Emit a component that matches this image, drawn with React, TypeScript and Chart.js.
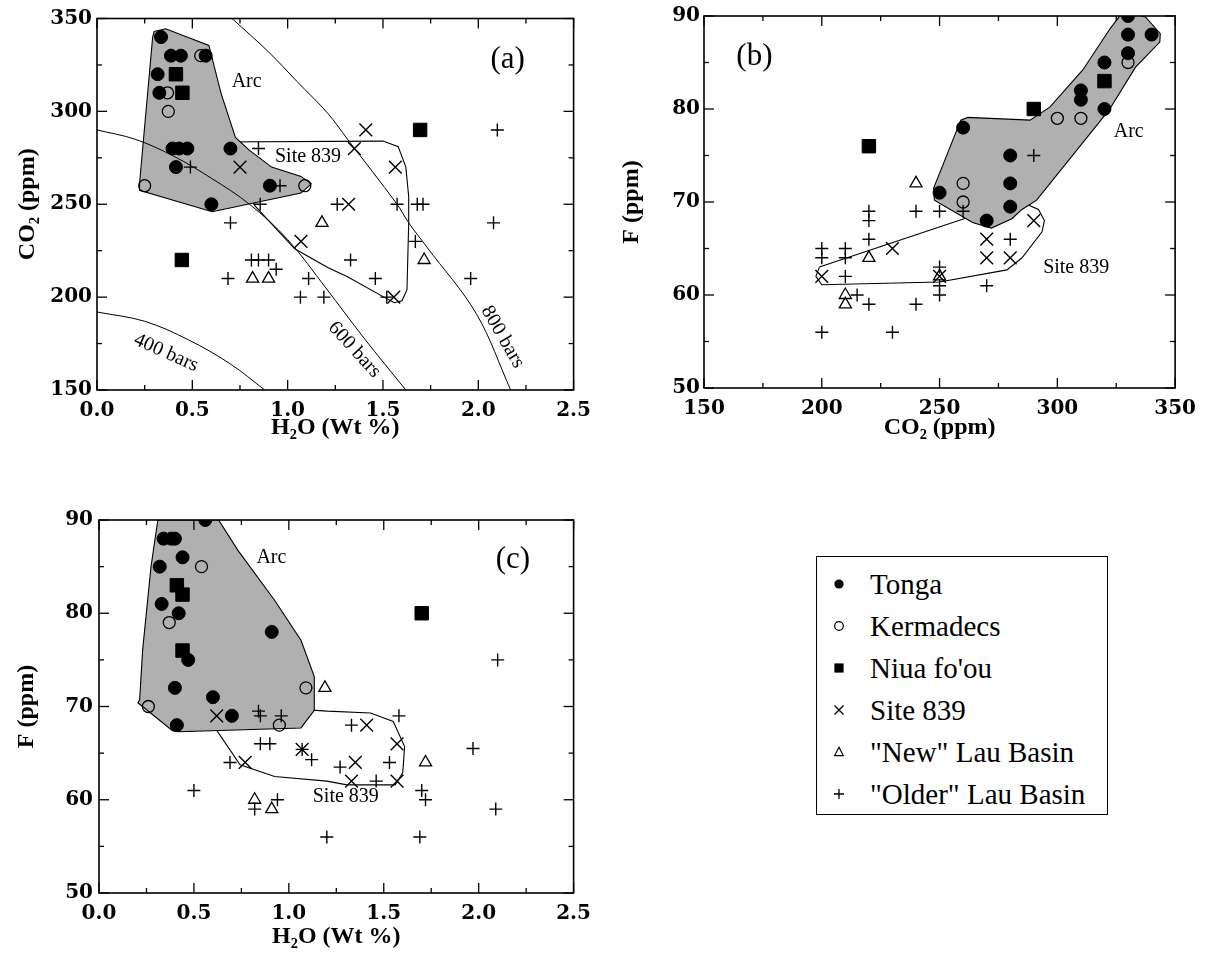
import React, { useEffect, useRef } from 'react';
import { Chart, registerables } from 'chart.js';

Chart.register(...registerables);

type P = [number, number];

// ---------------- Panel (a): H2O (wt %) vs CO2 (ppm) ----------------
const tongaA: P[] = [[0.336, 340], [0.388, 330], [0.44, 330], [0.57, 330], [0.318, 320], [0.327, 310], [0.396, 280], [0.431, 280], [0.474, 280], [0.70, 280], [0.414, 270], [0.907, 260], [0.60, 250]];
const kermA: P[] = [[0.544, 330], [0.37, 310], [0.374, 300], [0.25, 260], [1.09, 260]];
const niuaA: P[] = [[0.414, 320], [0.448, 310], [0.445, 220], [1.695, 290]];
const siteA: P[] = [[0.75, 270], [1.07, 230], [1.32, 250], [1.41, 290], [1.35, 280], [1.565, 270], [1.557, 200]];
const newLauA: P[] = [[1.18, 240], [1.716, 220], [0.816, 210], [0.90, 210]];
const olderLauA: P[] = [[0.49, 270], [0.96, 260], [0.847, 280], [0.856, 250], [0.70, 240], [1.26, 250], [1.574, 250], [1.68, 250], [1.71, 250], [2.08, 240], [1.67, 230], [1.33, 220], [1.46, 210], [1.96, 210], [1.52, 200], [0.81, 220], [0.847, 220], [0.90, 220], [0.94, 215], [0.687, 210], [1.11, 210], [1.067, 200], [1.19, 200], [2.10, 290]];
const arcA: P[] = [[0.292, 340], [0.30, 343], [0.36, 344.5], [0.587, 335.5], [0.65, 310], [0.726, 286], [0.80, 279], [0.916, 270], [1.07, 265], [1.124, 261], [1.07, 256], [0.604, 246], [0.223, 257.5], [0.223, 261], [0.292, 340]];
const site839A: P[] = [[0.60, 283.5], [1.50, 284], [1.58, 281], [1.62, 270], [1.635, 254], [1.635, 240], [1.626, 204], [1.60, 198], [1.56, 197], [1.505, 200], [1.314, 211], [1.21, 216], [1.037, 226], [0.83, 249], [0.63, 281], [0.60, 283.5]];
const bars400: P[] = [[0, 192], [0.25, 187], [0.48, 177], [0.7, 164], [0.88, 150]];
const bars600: P[] = [[0, 290], [0.2, 285], [0.4, 276], [0.6, 264], [0.8, 250], [1.0, 231], [1.2, 205], [1.4, 178], [1.62, 150]];
const bars800: P[] = [[0.708, 350], [0.9, 332], [1.05, 316], [1.21, 299], [1.314, 285], [1.574, 250], [1.635, 240], [1.73, 227], [1.99, 191], [2.17, 150]];
const notesA = [
  { text: 'Arc', x: 0.785, y: 316, rot: 0, kind: 'small' },
  { text: 'Site 839', x: 1.107, y: 275.5, rot: 0, kind: 'small' },
  { text: '(a)', x: 2.154, y: 327.7, rot: 0, kind: 'big' },
  { text: '400 bars', x: 0.362, y: 170, rot: 24, kind: 'small' },
  { text: '600 bars', x: 1.35, y: 171.7, rot: 47.5, kind: 'small' },
  { text: '800 bars', x: 2.128, y: 178.5, rot: 60, kind: 'small' },
];

// ---------------- Panel (b): CO2 (ppm) vs F (ppm) ----------------
const tongaB: P[] = [[330, 90], [330, 88], [340, 88], [330, 86], [320, 85], [310, 82], [310, 81], [320, 80], [260, 78], [280, 75], [280, 72], [250, 71], [280, 69.5], [270, 68]];
const kermB: P[] = [[330, 85], [300, 79], [310, 79], [260, 72], [260, 70]];
const niuaB: P[] = [[220, 76], [320, 83], [290, 80]];
const siteB: P[] = [[290, 68], [230, 65], [200, 62], [250, 62], [270, 66], [270, 64], [280, 64]];
const newLauB: P[] = [[240, 72], [220, 64], [210, 60], [210, 59], [250, 62]];
const olderLauB: P[] = [[220, 69], [220, 68], [240, 69], [250, 69], [260, 69], [290, 75], [220, 66], [200, 65], [200, 64], [210, 65], [210, 64], [210, 62], [215, 60], [220, 59], [240, 59], [250, 63], [250, 61], [250, 60], [270, 61], [200, 56], [230, 56], [280, 66]];
const arcB: P[] = [[322, 88.5], [328, 90.5], [337.4, 89.9], [343.7, 88.1], [343.5, 87.2], [333.2, 84.5], [322, 79.9], [291.2, 70.2], [285, 69.2], [280.7, 68.2], [272, 67.2], [264, 67.8], [247.8, 70.2], [247.5, 71.5], [259, 78.8], [262, 79.1], [288.4, 78.8], [296.8, 80.2], [310.8, 84.2], [322, 88.5]];
const site839B: P[] = [[199, 63], [260.4, 68.2], [278.6, 69.7], [285.6, 69.9], [292, 69.2], [294.5, 68], [293.5, 66.8], [285, 64], [278.6, 62.7], [250, 61.4], [200, 61.1], [197.5, 62], [199, 63]];
const notesB = [
  { text: '(b)', x: 171.4, y: 85.6, rot: 0, kind: 'big' },
  { text: 'Arc', x: 330.3, y: 77.6, rot: 0, kind: 'small' },
  { text: 'Site 839', x: 308, y: 62.9, rot: 0, kind: 'small' },
];

// ---------------- Panel (c): H2O (wt %) vs F (ppm) ----------------
const tongaC: P[] = [[0.56, 90], [0.34, 88], [0.38, 88], [0.40, 88], [0.44, 86], [0.32, 85], [0.33, 81], [0.42, 80], [0.91, 78], [0.47, 75], [0.40, 72], [0.60, 71], [0.70, 69], [0.41, 68]];
const kermC: P[] = [[0.54, 85], [0.37, 79], [1.09, 72], [0.26, 70], [0.95, 68]];
const niuaC: P[] = [[0.41, 83], [0.44, 82], [0.44, 76], [1.70, 80]];
const siteC: P[] = [[0.62, 69], [0.77, 64], [1.07, 65.4], [1.41, 68], [1.57, 66], [1.35, 64], [1.33, 62], [1.57, 62]];
const newLauC: P[] = [[1.19, 72], [0.82, 60], [0.91, 59], [1.72, 64]];
const olderLauC: P[] = [[0.84, 69.5], [0.85, 69], [0.96, 69], [0.85, 66], [0.90, 66], [1.07, 65.4], [1.12, 64.3], [0.69, 64], [0.50, 61], [0.82, 59], [0.94, 60], [1.20, 56], [2.10, 75], [1.58, 69], [1.33, 68], [1.53, 64], [1.27, 63.5], [1.46, 62], [1.97, 65.5], [1.70, 61], [1.72, 60], [1.69, 56], [2.09, 59]];
const arcC: P[] = [[0.31, 90], [0.63, 90], [0.73, 86.8], [0.925, 81.4], [1.064, 77.1], [1.134, 73.2], [1.134, 69.6], [1.064, 67.7], [0.42, 67.3], [0.387, 67.4], [0.205, 70.4], [0.214, 70.7], [0.23, 76.1], [0.274, 85], [0.31, 90]];
const site839C: P[] = [[0.595, 69.3], [0.68, 70.2], [1.203, 69.5], [1.43, 69.3], [1.55, 68.4], [1.61, 65.7], [1.60, 62.9], [1.56, 61.6], [1.307, 61.6], [1.2, 62], [0.925, 62.5], [0.743, 63.75], [0.595, 68.2], [0.595, 69.3]];
const notesC = [
  { text: 'Arc', x: 0.908, y: 85.9, rot: 0, kind: 'small' },
  { text: '(c)', x: 2.18, y: 85.7, rot: 0, kind: 'big' },
  { text: 'Site 839', x: 1.30, y: 60.3, rot: 0, kind: 'small' },
];

const legendLabels = ['Tonga', 'Kermadecs', "Niua fo'ou", 'Site 839', '"New" Lau Basin', '"Older" Lau Basin'];

// ---------------- styling helpers ----------------
const SERIF = '"Liberation Serif", "Times New Roman", serif';
const TICK_FONT = { family: '"DejaVu Serif", serif', size: 20, weight: 'bold' as const };
const TITLE_FONT = { family: SERIF, size: 24, weight: 'bold' as const };
const NOTE_SIZE: Record<string, number> = { small: 20, big: 31 };
const SHADE = '#b0b0b0';

const toXY = (pts: P[]) => pts.map(([x, y]) => ({ x, y }));

function markers(kind: string, pts: P[]) {
  const base: any = { data: toXY(pts), showLine: false, order: 0, pointBorderColor: '#000', pointHoverRadius: 0 };
  switch (kind) {
    case 'tonga': return { ...base, pointStyle: 'circle', pointRadius: 6.5, pointBackgroundColor: '#000', pointBorderWidth: 1 };
    case 'kerm': return { ...base, pointStyle: 'circle', pointRadius: 6, pointBackgroundColor: 'rgba(0,0,0,0)', pointBorderWidth: 1.3 };
    case 'niua': return { ...base, pointStyle: 'rect', pointRadius: 9.5, pointBackgroundColor: '#000', pointBorderWidth: 1 };
    case 'site': return { ...base, pointStyle: 'crossRot', pointRadius: 9, pointBorderWidth: 1.4 };
    case 'new': return { ...base, pointStyle: 'triangle', pointRadius: 7, pointBackgroundColor: 'rgba(0,0,0,0)', pointBorderWidth: 1.3 };
    default: return { ...base, pointStyle: 'cross', pointRadius: 6.5, pointBorderWidth: 1.4 };
  }
}

function outline(pts: P[], shaded: boolean) {
  return {
    data: toXY(pts), showLine: true, pointRadius: 0, borderColor: '#000', borderWidth: 1.1,
    backgroundColor: shaded ? SHADE : 'rgba(0,0,0,0)', fill: shaded ? 'shape' : false, tension: 0, order: 10,
  };
}

function curve(pts: P[]) {
  return { data: toXY(pts), showLine: true, pointRadius: 0, borderColor: '#000', borderWidth: 1, fill: false, tension: 0.35, order: 9 };
}

function framePlugin(xMajor: number, xMinor: number, yMajor: number, yMinor: number) {
  return {
    id: 'frameTicks',
    afterDatasetsDraw(chart: any) {
      const { ctx, chartArea: { left, right, top, bottom }, scales: { x, y } } = chart;
      ctx.save();
      ctx.strokeStyle = '#000';
      ctx.lineWidth = 1.3;
      const line = (a: number, b: number, c: number, d: number) => { ctx.beginPath(); ctx.moveTo(a, b); ctx.lineTo(c, d); ctx.stroke(); };
      const isMaj = (v: number, m: number) => Math.abs(v / m - Math.round(v / m)) < 1e-6;
      for (let v = x.min; v <= x.max + 1e-9; v += xMinor) {
        const px = x.getPixelForValue(v);
        const len = isMaj(v, xMajor) ? 10 : 5;
        line(px, bottom, px, bottom - len);
        line(px, top, px, top + len);
      }
      for (let v = y.min; v <= y.max + 1e-9; v += yMinor) {
        const py = y.getPixelForValue(v);
        const len = isMaj(v, yMajor) ? 10 : 5;
        line(left, py, left + len, py);
        line(right, py, right - len, py);
      }
      ctx.lineWidth = 1.6;
      ctx.strokeRect(left, top, right - left, bottom - top);
      ctx.restore();
    },
  };
}

function notesPlugin(items: { text: string; x: number; y: number; rot: number; kind: string }[]) {
  return {
    id: 'notes',
    afterDatasetsDraw(chart: any) {
      const { ctx, scales: { x, y } } = chart;
      for (const n of items) {
        ctx.save();
        ctx.translate(x.getPixelForValue(n.x), y.getPixelForValue(n.y));
        ctx.rotate((n.rot * Math.PI) / 180);
        ctx.font = `${NOTE_SIZE[n.kind]}px ${SERIF}`;
        ctx.fillStyle = '#000';
        ctx.textAlign = 'center';
        ctx.textBaseline = 'middle';
        ctx.fillText(n.text, 0, 0);
        ctx.restore();
      }
    },
  };
}

type PanelSpec = {
  W: number; H: number;
  area: { left: number; right: number; top: number; bottom: number };
  x: { min: number; max: number; step: number; minor: number; title: string; dec: number };
  y: { min: number; max: number; step: number; minor: number; title: string };
  datasets: any[];
  notes: any[];
  xTitlePad: number; yTitlePad: number; yTickPad: number; xTickPad: number;
};

function Panel({ spec, left, top }: { spec: PanelSpec; left: number; top: number }) {
  const ref = useRef<HTMLCanvasElement | null>(null);
  useEffect(() => {
    const s = spec;
    const chart = new Chart(ref.current as HTMLCanvasElement, {
      type: 'scatter',
      data: { datasets: s.datasets },
      options: {
        responsive: false,
        animation: false,
        events: [],
        layout: { padding: { left: 0, top: s.area.top, right: s.W - s.area.right, bottom: 0 } },
        plugins: { legend: { display: false }, tooltip: { enabled: false } },
        scales: {
          x: {
            type: 'linear', min: s.x.min, max: s.x.max,
            grid: { display: false, drawTicks: false },
            border: { display: false },
            ticks: { stepSize: s.x.step, color: '#000', font: TICK_FONT, padding: s.xTickPad, maxRotation: 0, callback: (v: any) => Number(v).toFixed(s.x.dec) },
            title: { display: true, text: s.x.title, color: '#000', font: TITLE_FONT, padding: { top: 0, bottom: s.xTitlePad } },
            afterFit: (sc: any) => { sc.height = s.H - s.area.bottom; },
          },
          y: {
            type: 'linear', min: s.y.min, max: s.y.max,
            grid: { display: false, drawTicks: false },
            border: { display: false },
            ticks: { stepSize: s.y.step, color: '#000', font: TICK_FONT, padding: s.yTickPad },
            title: { display: true, text: s.y.title, color: '#000', font: TITLE_FONT, padding: { top: s.yTitlePad, bottom: 0 } },
            afterFit: (sc: any) => { sc.width = s.area.left; },
          },
        },
      } as any,
      plugins: [framePlugin(s.x.step, s.x.minor, s.y.step, s.y.minor), notesPlugin(s.notes)],
    });
    return () => chart.destroy();
  }, [spec]);
  return (
    <div style={{ position: 'absolute', left, top, width: spec.W, height: spec.H }}>
      <canvas ref={ref} width={spec.W} height={spec.H} style={{ width: spec.W, height: spec.H, display: 'block' }} />
    </div>
  );
}

const specA: PanelSpec = {
  W: 600, H: 450, area: { left: 97, right: 578, top: 18.5, bottom: 390 },
  x: { min: 0, max: 2.5, step: 0.5, minor: 0.25, title: 'H₂O (Wt %)', dec: 1 },
  y: { min: 150, max: 350, step: 50, minor: 25, title: 'CO₂ (ppm)' },
  datasets: [
    markers('tonga', tongaA), markers('kerm', kermA), markers('niua', niuaA), markers('site', siteA), markers('new', newLauA), markers('older', olderLauA),
    outline(arcA, true), outline(site839A, false), curve(bars400), curve(bars600), curve(bars800),
  ],
  notes: notesA, xTitlePad: 7.6, yTitlePad: 13, yTickPad: 5, xTickPad: 9,
};

const specB: PanelSpec = {
  W: 600, H: 450, area: { left: 99, right: 575, top: 16, bottom: 388 },
  x: { min: 150, max: 350, step: 50, minor: 25, title: 'CO₂ (ppm)', dec: 0 },
  y: { min: 50, max: 90, step: 10, minor: 5, title: 'F (ppm)' },
  datasets: [
    markers('tonga', tongaB), markers('kerm', kermB), markers('niua', niuaB), markers('site', siteB), markers('new', newLauB), markers('older', olderLauB),
    outline(arcB, true), outline(site839B, false),
  ],
  notes: notesB, xTitlePad: 7.6, yTitlePad: 12.6, yTickPad: 4, xTickPad: 9,
};

const specC: PanelSpec = {
  W: 600, H: 470, area: { left: 99, right: 579, top: 20, bottom: 393 },
  x: { min: 0, max: 2.5, step: 0.5, minor: 0.25, title: 'H₂O (Wt %)', dec: 1 },
  y: { min: 50, max: 90, step: 10, minor: 5, title: 'F (ppm)' },
  datasets: [
    markers('tonga', tongaC), markers('kerm', kermC), markers('niua', niuaC), markers('site', siteC), markers('new', newLauC), markers('older', olderLauC),
    outline(arcC, true), outline(site839C, false),
  ],
  notes: notesC, xTitlePad: 18.6, yTitlePad: 12.6, yTickPad: 6, xTickPad: 9,
};

function LegendMarker({ i }: { i: number }) {
  const c = 10;
  let el: any;
  if (i === 0) el = <circle cx={c} cy={c} r={4.6} fill="#000" />;
  else if (i === 1) el = <circle cx={c} cy={c} r={4.3} fill="none" stroke="#000" strokeWidth={1.2} />;
  else if (i === 2) el = <rect x={c - 4.6} y={c - 4.6} width={9.2} height={9.2} fill="#000" />;
  else if (i === 3) el = <path d={`M${c - 4.5} ${c - 4.5}L${c + 4.5} ${c + 4.5}M${c + 4.5} ${c - 4.5}L${c - 4.5} ${c + 4.5}`} stroke="#000" strokeWidth={1.3} />;
  else if (i === 4) el = <path d={`M${c} ${c - 4.8}L${c + 4.3} ${c + 3.6}L${c - 4.3} ${c + 3.6}Z`} fill="none" stroke="#000" strokeWidth={1.2} />;
  else el = <path d={`M${c - 5} ${c}L${c + 5} ${c}M${c} ${c - 5}L${c} ${c + 5}`} stroke="#000" strokeWidth={1.3} />;
  return <svg width={20} height={20} style={{ position: 'absolute', left: 12, top: 11 }}>{el}</svg>;
}

export default function App() {
  return (
    <div style={{ position: 'absolute', left: 0, top: 0, width: 1212, height: 970, background: '#fff', overflow: 'hidden' }}>
      <Panel spec={specA} left={0} top={0} />
      <Panel spec={specB} left={605} top={0} />
      <Panel spec={specC} left={0} top={500} />
      <div style={{ position: 'absolute', left: 816, top: 556, width: 292, height: 259, border: '1px solid #000', boxSizing: 'border-box', fontFamily: SERIF, fontSize: 29, color: '#000' }}>
        {legendLabels.map((t, i) => (
          <div key={t} style={{ position: 'absolute', left: 0, top: 6 + i * 42, width: 290, height: 42 }}>
            <LegendMarker i={i} />
            <span style={{ position: 'absolute', left: 53, top: 0, lineHeight: '42px', whiteSpace: 'nowrap' }}>{t}</span>
          </div>
        ))}
      </div>
    </div>
  );
}
